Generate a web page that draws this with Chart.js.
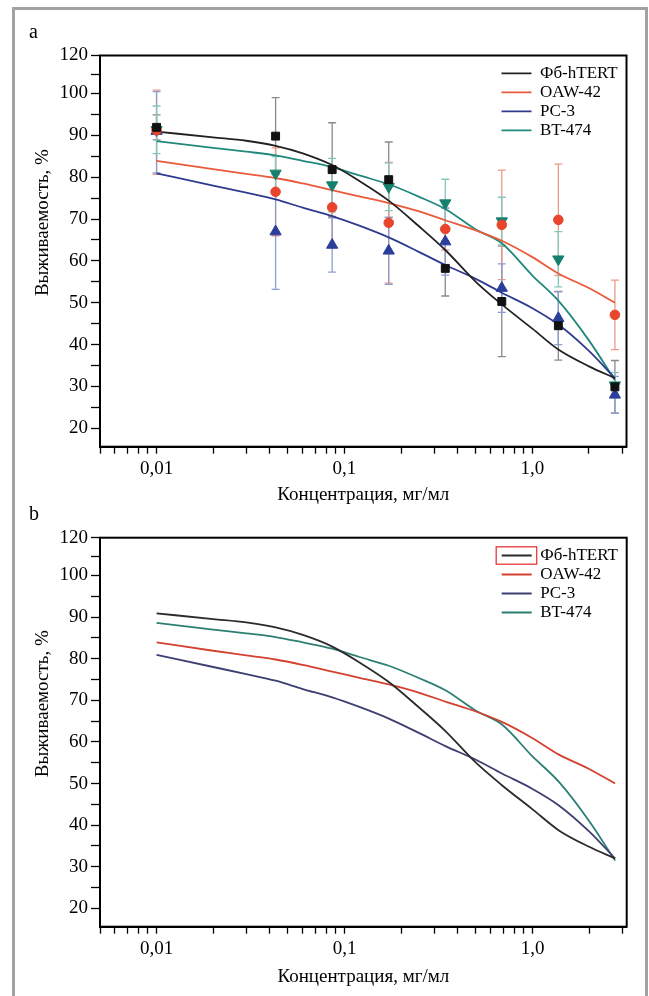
<!DOCTYPE html>
<html>
<head>
<meta charset="utf-8">
<script src="https://cdn.jsdelivr.net/npm/chart.js@4.4.1/dist/chart.umd.min.js"></script>
<style>
html, body { margin: 0; padding: 0; background: #fff; width: 649px; height: 996px; overflow: hidden; }
#frame { position: absolute; left: 12px; top: 7px; width: 630px; height: 1010px; border: 3px solid #a2a2a2; }
canvas { position: absolute; left: 0; }
#chartA { top: 0; }
#chartB { top: 490px; }
</style>
</head>
<body>
<div id="frame"></div>
<canvas id="chartA" width="649" height="510"></canvas>
<canvas id="chartB" width="649" height="506"></canvas>
<script>
// ---------- data ----------
const SERIES_NAMES = ['Фб-hTERT', 'OAW-42', 'PC-3', 'BT-474'];

// measured concentrations (mg/ml)
const POINT_CONC = [0.01, 0.043, 0.086, 0.172, 0.344, 0.6875, 1.375, 2.75];
const HTERT_POINTS = [91.9, 89.8, 81.8, 79.4, 58.2, 50.3, 44.5, 29.9];
const HTERT_ERR    = [3.0, 9.2, 11.2, 9.0, 6.6, 13.2, 8.2, 6.3];
const OAW_POINTS   = [91.2, 76.5, 72.8, 69.1, 67.6, 68.6, 69.8, 47.1];
const OAW_ERR      = [10.5, 10.5, 9.5, 14.4, 5.0, 13.1, 13.3, 8.3];
const PC3_POINTS   = [91.0, 67.0, 63.8, 62.4, 64.6, 53.5, 46.3, 28.0];
const PC3_ERR      = [10.0, 13.8, 6.5, 8.0, 8.0, 5.8, 6.3, 4.4];
const BT_POINTS    = [91.3, 80.9, 78.1, 77.7, 73.8, 69.5, 60.4, 30.3];
const BT_ERR       = [5.7, 4.0, 6.4, 5.7, 5.7, 5.7, 6.6, 3.0];

// fitted curves
const CURVE_CONC = [0.01, 0.02, 0.03, 0.043, 0.06, 0.086, 0.12, 0.172, 0.25, 0.344, 0.5, 0.6875, 1.0, 1.375, 2.0, 2.75];
const HTERT_FIT = [90.9, 89.5, 88.7, 87.5, 85.7, 82.9, 79.1, 74.4, 68.2, 62.6, 55.0, 49.6, 43.8, 38.8, 34.8, 32.0];
const OAW_FIT   = [83.9, 81.9, 80.8, 79.8, 78.5, 76.9, 75.4, 73.8, 71.8, 69.7, 67.3, 64.8, 60.9, 57.0, 53.5, 50.0];
const PC3_FIT   = [80.9, 78.0, 76.3, 74.7, 72.7, 70.7, 68.4, 65.6, 62.1, 59.0, 55.7, 52.4, 48.7, 44.8, 38.5, 32.0];
const BT_FIT    = [88.6, 87.0, 86.1, 85.2, 83.9, 82.4, 80.4, 78.3, 75.3, 72.4, 67.5, 64.2, 56.5, 50.5, 41.0, 31.5];

// axes
const X_TICKS = [0.005, 0.006, 0.007, 0.008, 0.009, 0.01, 0.02, 0.03, 0.04, 0.05, 0.06, 0.07, 0.08, 0.09,
                 0.1, 0.2, 0.3, 0.4, 0.5, 0.6, 0.7, 0.8, 0.9, 1, 2, 3];
const X_LABELED = [0.01, 0.1, 1];
const X_LABEL_TEXT = ['0,01', '0,1', '1,0'];
const Y_TICKS = [20, 25, 30, 35, 40, 45, 50, 55, 60, 65, 70, 75, 80, 85, 90, 95, 100, 110, 120];
const Y_TICK_LABELS = [120, 100, 90, 80, 70, 60, 50, 40, 30, 20];
const X_TITLE = 'Концентрация, мг/мл';
const Y_TITLE = 'Выживаемость, %';
const PANEL_LETTERS = ['a', 'b'];

// axis ranges (the value axis is drawn with the upper 100–120 section compressed, as in the figure)
const X_MIN = 0.005, X_MAX = 3.17;
const Y_MIN = 15.6, Y_MAX = 120, Y_BREAK = 100, Y_BREAK_FRACTION = 0.903;

// ---------- custom scale ----------
class PiecewiseLinearScale extends Chart.LinearScale {
  getPixelForValue(value) {
    if (value === null || value === undefined || isNaN(+value)) return NaN;
    const v = +value, lo = this.min, hi = this.max;
    let d;
    if (v <= Y_BREAK) d = (v - lo) / (Y_BREAK - lo) * Y_BREAK_FRACTION;
    else d = Y_BREAK_FRACTION + (v - Y_BREAK) / (hi - Y_BREAK) * (1 - Y_BREAK_FRACTION);
    return this.getPixelForDecimal(d);
  }
  getValueForPixel(pixel) {
    const d = this.getDecimalForPixel(pixel);
    const lo = this.min, hi = this.max;
    if (d <= Y_BREAK_FRACTION) return lo + d / Y_BREAK_FRACTION * (Y_BREAK - lo);
    return Y_BREAK + (d - Y_BREAK_FRACTION) / (1 - Y_BREAK_FRACTION) * (hi - Y_BREAK);
  }
}
PiecewiseLinearScale.id = 'piecewise';
PiecewiseLinearScale.defaults = {};
Chart.register(PiecewiseLinearScale);

Chart.defaults.font.family = "'Liberation Serif', 'Times New Roman', serif";
Chart.defaults.color = '#000';

// ---------- styles ----------
const MARKER_STYLE = [
  { style: 'rect', radius: 5.6, rotation: 0, color: '#111111', err: '#8a8a8a' },
  { style: 'circle', radius: 4.8, rotation: 0, color: '#e8452c', err: '#ec9a88' },
  { style: 'triangle', radius: 6.5, rotation: 0, color: '#2b3e9b', err: '#8d9dcf' },
  { style: 'triangle', radius: 6.5, rotation: 180, color: '#16806f', err: '#86c7bc' }
];
const CURVE_COLORS_A = ['#222222', '#ea5a3a', '#2f3b8f', '#20897b'];
const CURVE_COLORS_B = ['#2b2b2b', '#d4412e', '#3c3f70', '#2e7f73'];

const POINT_VALUES = [HTERT_POINTS, OAW_POINTS, PC3_POINTS, BT_POINTS];
const POINT_ERRORS = [HTERT_ERR, OAW_ERR, PC3_ERR, BT_ERR];
const FIT_VALUES = [HTERT_FIT, OAW_FIT, PC3_FIT, BT_FIT];

function curveDataset(i, colors) {
  return {
    label: SERIES_NAMES[i],
    data: CURVE_CONC.map((c, k) => ({ x: c, y: FIT_VALUES[i][k] })),
    borderColor: colors[i], backgroundColor: colors[i],
    borderWidth: 1.8, pointRadius: 0, pointHoverRadius: 0,
    cubicInterpolationMode: 'monotone', fill: false,
    order: 1, isCurve: true
  };
}
function markerDataset(i) {
  const s = MARKER_STYLE[i];
  return {
    label: SERIES_NAMES[i] + ' (данные)',
    data: POINT_CONC.map((c, k) => ({ x: c, y: POINT_VALUES[i][k] })),
    errors: POINT_ERRORS[i], errorColor: s.err,
    showLine: false,
    pointStyle: s.style, pointRadius: s.radius, pointHoverRadius: s.radius, pointRotation: s.rotation,
    pointBackgroundColor: s.color, pointBorderColor: s.color, pointBorderWidth: 1,
    borderColor: s.color, backgroundColor: s.color,
    order: 0, isCurve: false
  };
}

// ---------- plugins ----------
const errorBarsPlugin = {
  id: 'errorBars',
  beforeDatasetsDraw(chart) {
    const { ctx } = chart; const xs = chart.scales.x, ys = chart.scales.y;
    chart.data.datasets.forEach(ds => {
      if (!ds.errors) return;
      ctx.save();
      ctx.strokeStyle = ds.errorColor; ctx.lineWidth = 1.3;
      ds.data.forEach((p, k) => {
        const e = ds.errors[k]; if (!e) return;
        const px = xs.getPixelForValue(p.x);
        const top = ys.getPixelForValue(p.y + e), bot = ys.getPixelForValue(p.y - e);
        ctx.beginPath();
        ctx.moveTo(px, top); ctx.lineTo(px, bot);
        ctx.moveTo(px - 4, top); ctx.lineTo(px + 4, top);
        ctx.moveTo(px - 4, bot); ctx.lineTo(px + 4, bot);
        ctx.stroke();
      });
      ctx.restore();
    });
  }
};
const plotBoxPlugin = {
  id: 'plotBox',
  afterDatasetsDraw(chart) {
    const { ctx, chartArea: a } = chart;
    ctx.save(); ctx.strokeStyle = '#000'; ctx.lineWidth = 2;
    ctx.strokeRect(a.left, a.top, a.right - a.left, a.bottom - a.top);
    ctx.restore();
  }
};
const legendPlacerPlugin = {
  id: 'legendPlacer',
  afterUpdate(chart) {
    const lg = chart.legend, a = chart.chartArea;
    if (!lg) return;
    lg.left = a.right - 127; lg.right = a.right;
    lg.top = a.top + 7.3; lg.bottom = a.bottom;
  }
};
const legendMarkPlugin = {
  id: 'legendMark',
  afterDraw(chart, args, opts) {
    if (!opts || !opts.enabled) return;
    const lg = chart.legend; const { ctx } = chart;
    const lineStart = lg.left + 2;
    const rowCenter = lg.top + 2 + 8.5;
    ctx.save(); ctx.strokeStyle = '#e8383b'; ctx.lineWidth = 1.3;
    ctx.strokeRect(lineStart - 5.5, rowCenter - 8.7, 40.5, 17.4);
    ctx.restore();
  }
};

function xLabel(v) {
  const k = X_LABELED.findIndex(t => Math.abs(t - v) < 1e-9);
  return k >= 0 ? X_LABEL_TEXT[k] : '';
}

function makeChart(id, letter, datasets, L, mark) {
  return new Chart(document.getElementById(id), {
    type: 'line',
    data: { datasets },
    plugins: [errorBarsPlugin, plotBoxPlugin, legendPlacerPlugin, legendMarkPlugin],
    options: {
      responsive: false, animation: false, events: [],
      layout: { autoPadding: false, padding: { left: 29, right: L.right, top: 0, bottom: L.bottom } },
      plugins: {
        tooltip: { enabled: false },
        title: { display: true, text: letter, align: 'start', color: '#000',
                 font: { size: 20, weight: 'normal' }, padding: { top: L.titleTop, bottom: L.titleBottom } },
        legend: {
          display: true, position: 'chartArea', align: 'start',
          labels: {
            filter: (item, data) => data.datasets[item.datasetIndex].isCurve,
            usePointStyle: true, pointStyle: 'line', pointStyleWidth: 30,
            font: { size: 17 }, color: '#000', padding: 2
          }
        },
        legendMark: { enabled: mark }
      },
      scales: {
        x: {
          type: 'logarithmic', position: 'bottom', min: X_MIN, max: X_MAX, bounds: 'data',
          afterBuildTicks: s => { s.ticks = X_TICKS.map(v => ({ value: v })); },
          afterFit: s => { s.height = L.xHeight; },
          ticks: { autoSkip: false, maxRotation: 0, minRotation: 0, padding: 4, color: '#000',
                   font: { size: 19 }, callback: v => xLabel(v) },
          grid: { display: true, drawOnChartArea: false, drawTicks: true, tickLength: 7, tickWidth: 1.3, tickColor: '#000' },
          border: { display: true, color: '#000', width: 2 },
          title: { display: true, text: X_TITLE, color: '#000', font: { size: 19 }, padding: { top: 0, bottom: 0 } }
        },
        y: {
          type: 'piecewise', position: 'left', min: Y_MIN, max: Y_MAX, bounds: 'data',
          afterBuildTicks: s => { s.ticks = Y_TICKS.map(v => ({ value: v })); },
          afterFit: s => { s.width = 71; },
          ticks: { autoSkip: false, padding: 3, color: '#000', font: { size: 19 },
                   callback: v => (Y_TICK_LABELS.includes(v) ? String(v) : '') },
          grid: { display: true, drawOnChartArea: false, drawTicks: true, tickLength: 9, tickWidth: 1.3, tickColor: '#000' },
          border: { display: true, color: '#000', width: 2 },
          title: { display: true, text: '\u00A0'.repeat(12) + Y_TITLE, color: '#000', font: { size: 19 },
                   padding: { top: 3, bottom: 0 } }
        }
      }
    }
  });
}

const datasetsA = [0, 1, 2, 3].map(i => markerDataset(i)).concat([0, 1, 2, 3].map(i => curveDataset(i, CURVE_COLORS_A)));
const datasetsB = [0, 1, 2, 3].map(i => curveDataset(i, CURVE_COLORS_B));

makeChart('chartA', PANEL_LETTERS[0], datasetsA,
  { right: 22.5, bottom: 3.4, titleTop: 20.5, titleBottom: 11, xHeight: 59.9 }, false);
makeChart('chartB', PANEL_LETTERS[1], datasetsB,
  { right: 22.3, bottom: 7.8, titleTop: 13, titleBottom: 10.7, xHeight: 61.5 }, true);
</script>
</body>
</html>
